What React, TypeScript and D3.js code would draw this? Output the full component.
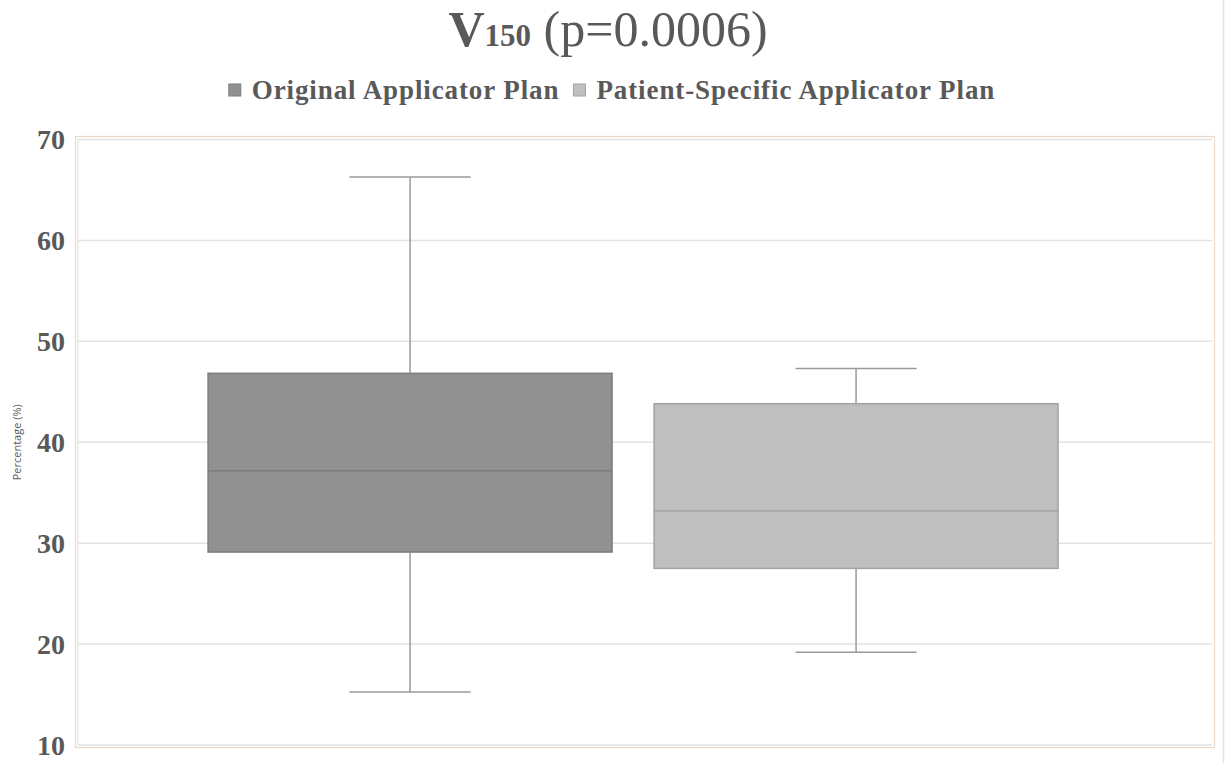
import React, { useEffect, useRef } from "react";
import * as d3 from "d3";

const seriesNames = ["Original Applicator Plan", "Patient-Specific Applicator Plan"];
const seriesFill = ["#919191", "#bfbfbf"];
const seriesStroke = ["#7d7d7d", "#a3a3a3"];
const minValues = [15.24, 19.2];
const q1Values = [29.12, 27.5];
const medianValues = [37.18, 33.18];
const q3Values = [46.83, 43.82];
const maxValues = [66.28, 47.32];
const yTicks = [10, 20, 30, 40, 50, 60, 70];

const W = 1225;
const H = 763;

export default function App() {
  const ref = useRef<SVGSVGElement>(null);

  useEffect(() => {
    const svg = d3.select(ref.current);
    svg.selectAll("*").remove();

    const plotL = 78, plotR = 1212;
    const y = d3.scaleLinear().domain([10, 70]).range([745, 139.5]);
    const x = d3.scaleBand<string>().domain(seriesNames).range([plotL, plotR])
      .paddingInner(0.0942).paddingOuter(0.3184).align(0.458);

    svg.append("rect").attr("width", W).attr("height", H).attr("fill", "#ffffff");

    // outer frame
    svg.append("rect").attr("x", 75.5).attr("y", 136.5).attr("width", 1139).attr("height", 611)
      .attr("fill", "none").attr("stroke", "#ead9cd").attr("stroke-width", 1.2);
    // page edge line
    svg.append("line").attr("x1", 1223.5).attr("x2", 1223.5).attr("y1", 0).attr("y2", H)
      .attr("stroke", "#e4e4e4").attr("stroke-width", 1.5);

    // gridlines
    svg.append("g").selectAll("line").data(yTicks).join("line")
      .attr("x1", plotL).attr("x2", plotR)
      .attr("y1", d => y(d)).attr("y2", d => y(d))
      .attr("stroke", "#e2e2e2").attr("stroke-width", 1.5);
    svg.append("line").attr("x1", plotL).attr("x2", plotL).attr("y1", y(70)).attr("y2", y(10))
      .attr("stroke", "#e2e2e2").attr("stroke-width", 1.2);

    // tick labels
    svg.append("g").selectAll("text").data(yTicks).join("text")
      .attr("x", 65).attr("y", d => y(d)).attr("dy", "0.35em")
      .attr("text-anchor", "end")
      .attr("font-family", "'Liberation Serif', 'Times New Roman', serif")
      .attr("font-weight", "bold").attr("font-size", 28).attr("fill", "#595959")
      .text(d => String(d));

    // y axis title
    svg.append("text")
      .attr("transform", `translate(21, ${y(40)}) rotate(-90)`)
      .attr("text-anchor", "middle")
      .attr("font-family", "'Open Sans', sans-serif").attr("font-size", 11).attr("fill", "#595959")
      .text("Percentage (%)");

    // boxes
    seriesNames.forEach((name, i) => {
      const x0 = x(name)!;
      const bw = x.bandwidth();
      const cx = x0 + bw / 2;
      const capW = bw * 0.3;
      const g = svg.append("g");
      const wc = "#9a9a9a";
      g.append("line").attr("x1", cx).attr("x2", cx).attr("y1", y(maxValues[i])).attr("y2", y(q3Values[i]))
        .attr("stroke", wc).attr("stroke-width", 1.5);
      g.append("line").attr("x1", cx).attr("x2", cx).attr("y1", y(q1Values[i])).attr("y2", y(minValues[i]))
        .attr("stroke", wc).attr("stroke-width", 1.5);
      g.append("line").attr("x1", cx - capW / 2).attr("x2", cx + capW / 2).attr("y1", y(maxValues[i])).attr("y2", y(maxValues[i]))
        .attr("stroke", wc).attr("stroke-width", 1.5);
      g.append("line").attr("x1", cx - capW / 2).attr("x2", cx + capW / 2).attr("y1", y(minValues[i])).attr("y2", y(minValues[i]))
        .attr("stroke", wc).attr("stroke-width", 1.5);
      g.append("rect").attr("x", x0).attr("y", y(q3Values[i])).attr("width", bw)
        .attr("height", y(q1Values[i]) - y(q3Values[i]))
        .attr("fill", seriesFill[i]).attr("stroke", seriesStroke[i]).attr("stroke-width", 1.5);
      g.append("line").attr("x1", x0).attr("x2", x0 + bw).attr("y1", y(medianValues[i])).attr("y2", y(medianValues[i]))
        .attr("stroke", seriesStroke[i]).attr("stroke-width", 1.5);
    });

    // title
    const title = svg.append("text")
      .attr("y", 46)
      .attr("font-family", "'Liberation Serif', 'Times New Roman', serif")
      .attr("fill", "#595959");
    title.append("tspan").attr("font-weight", "bold").attr("font-size", 50).text("V");
    title.append("tspan").attr("font-weight", "bold").attr("font-size", 31).text("150");
    title.append("tspan").attr("font-size", 50).text(" (p=0.0006)");
    const tw = (title.node() as SVGTextElement).getComputedTextLength();
    title.attr("x", 608 - tw / 2);

    // legend
    const legend = svg.append("g");
    const sq = 12, gap1 = 11, gap2 = 14;
    const items: { t: any; r: any; w: number }[] = [];
    seriesNames.forEach((name, i) => {
      const r = legend.append("rect").attr("y", 84).attr("width", sq).attr("height", sq)
        .attr("fill", seriesFill[i]).attr("stroke", seriesStroke[i]).attr("stroke-width", 1);
      const t = legend.append("text").attr("y", 98.5)
        .attr("font-family", "'Liberation Serif', 'Times New Roman', serif")
        .attr("font-weight", "bold").attr("font-size", 27).attr("letter-spacing", 0.9).attr("fill", "#595959")
        .text(name);
      items.push({ t, r, w: (t.node() as SVGTextElement).getComputedTextLength() });
    });
    const total = items.reduce((s, it) => s + sq + gap1 + it.w, 0) + gap2 * (items.length - 1);
    let cur = 612 - total / 2;
    items.forEach(it => {
      it.r.attr("x", cur);
      it.t.attr("x", cur + sq + gap1);
      cur += sq + gap1 + it.w + gap2;
    });
  }, []);

  return (
    <svg ref={ref} width={W} height={H} style={{ position: "absolute", left: 0, top: 0, display: "block" }} />
  );
}
